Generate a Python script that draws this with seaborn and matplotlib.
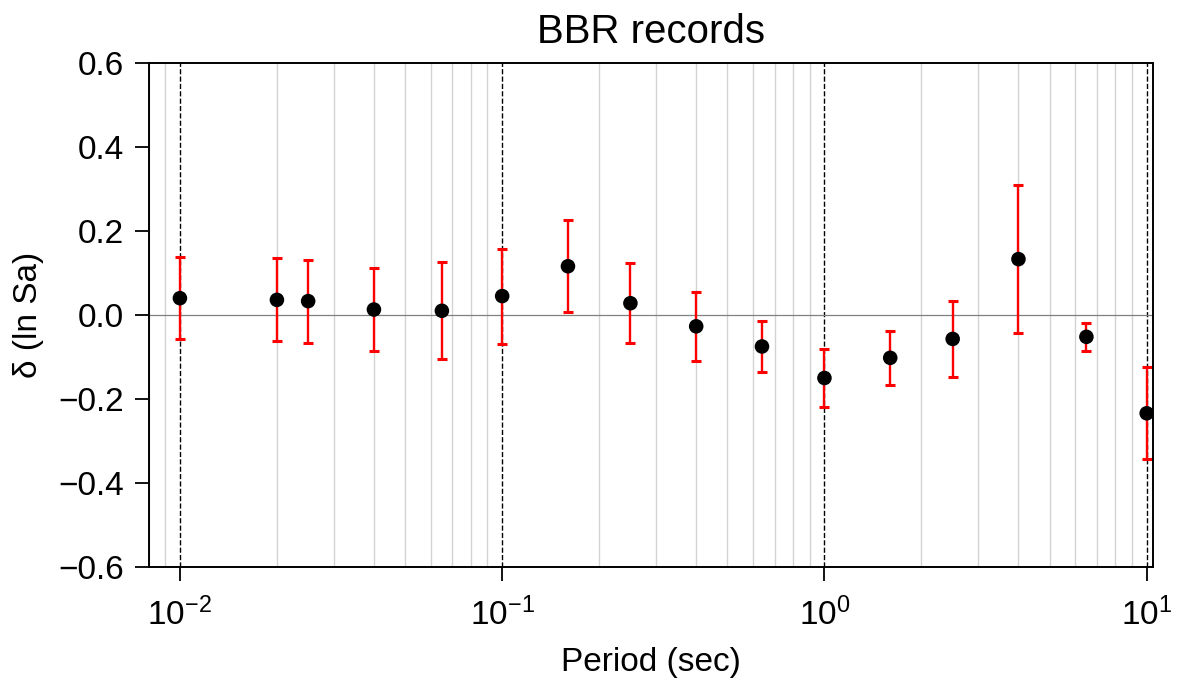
"""BBR records: period-dependent bias with error bars."""

import matplotlib
matplotlib.use("Agg")
import matplotlib.pyplot as plt
import numpy as np
import pandas as pd
import seaborn as sns

# data
periods = [0.01, 0.02, 0.025, 0.04, 0.065, 0.1, 0.16, 0.25, 0.4, 0.64,
           1.0, 1.6, 2.5, 4.0, 6.5, 10.0]
delta = [0.040, 0.036, 0.033, 0.013, 0.010, 0.045, 0.116, 0.028, -0.027,
         -0.075, -0.150, -0.102, -0.057, 0.133, -0.052, -0.234]
err = [0.098, 0.099, 0.099, 0.099, 0.115, 0.113, 0.110, 0.095, 0.082,
       0.061, 0.068, 0.065, 0.090, 0.177, 0.034, 0.109]
decades = [0.01, 0.1, 1.0, 10.0]
yticks = [-0.6, -0.4, -0.2, 0.0, 0.2, 0.4, 0.6]

df = pd.DataFrame({"period": periods, "delta": delta, "err": err})

sns.set_style("ticks")
plt.rcParams["font.family"] = ["Liberation Sans", "DejaVu Sans"]
plt.rcParams["mathtext.default"] = "regular"
plt.rcParams["text.color"] = "black"
plt.rcParams["axes.labelcolor"] = "black"
plt.rcParams["xtick.color"] = "black"
plt.rcParams["ytick.color"] = "black"

fig = plt.figure(figsize=(11.8, 6.84), dpi=100)
ax = fig.add_axes([0.126, 0.171, 0.851, 0.737])

ax.set_xscale("log")
ax.set_xlim(0.008, 10.45)
ax.set_ylim(-0.6, 0.6)

# light minor grid, dashed decade lines, zero line
ax.grid(which="minor", axis="x", color="#d3d3d3", lw=1.0)
for d in decades:
    ax.axvline(d, color="black", ls="--", lw=1.0, zorder=1)
ax.axhline(0, color="#808080", lw=0.9, zorder=1)

ax.errorbar(df["period"], df["delta"], yerr=df["err"], fmt="none",
            ecolor="red", elinewidth=1.7, capsize=3.8, capthick=2.2, zorder=2)
sns.scatterplot(data=df, x="period", y="delta", ax=ax, color="black",
                s=110, edgecolor="none", zorder=3)

ax.set_yticks(yticks)
ax.set_yticklabels([f"{v:.1f}".replace("-", "\u2212") for v in yticks])
ax.tick_params(axis="both", which="major", labelsize=24, length=10, width=1.3,
               direction="out")
ax.tick_params(axis="x", which="major", pad=12)
ax.tick_params(axis="y", which="major", pad=8)
ax.tick_params(axis="x", which="minor", length=0)
for s in ax.spines.values():
    s.set_linewidth(1.4)
    s.set_color("black")

ax.set_xlabel("Period (sec)", fontsize=24, labelpad=11)
ax.set_ylabel("δ (ln Sa)", fontsize=24, labelpad=10)
ax.set_title("BBR records", fontsize=29, pad=14)

fig.savefig("out.png", dpi=100)
